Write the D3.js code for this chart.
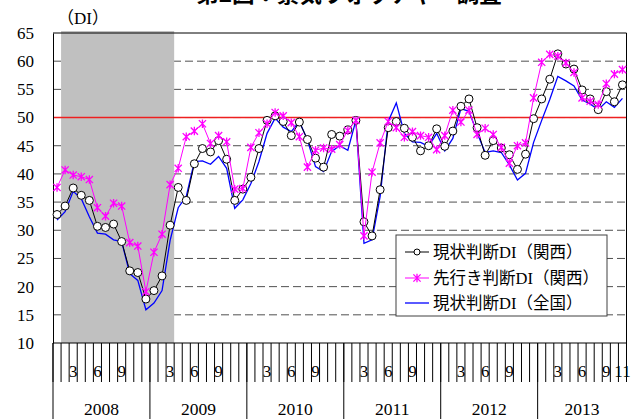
<!DOCTYPE html>
<html>
<head>
<meta charset="utf-8">
<script src="https://cdn.jsdelivr.net/npm/d3@7"></script>
<style>
  body { margin: 0; background: #fff; }
  text { font-family: "Liberation Serif", "Noto Sans CJK JP", serif; fill: #000; }
</style>
</head>
<body>
<div id="chart"></div>
<script>
var svgWidth = 637;
var svgHeight = 419;

var margin = { top: 33, right: 10.5, bottom: 76, left: 53 };
var width = svgWidth - margin.left - margin.right;
var height = svgHeight - margin.top - margin.bottom;

// data
var years = [2008, 2009, 2010, 2011, 2012, 2013];
var lastMonth = 11; // 2013 stops at November
var labelMonths = [3, 6, 9];
var recession = ["2008-02", "2009-03"];
var yTicks = [10, 15, 20, 25, 30, 35, 40, 45, 50, 55, 60, 65];
var seriesNames = ["現状判断DI（関西）", "先行き判断DI（関西）", "現状判断DI（全国）"];

var kansaiCurrent = [
  32.8, 34.3, 37.5, 36.2, 35.3, 30.7, 30.5, 31.1, 28.0, 22.8, 22.5, 17.8,
  19.3, 21.9, 30.9, 37.6, 35.3, 41.8, 44.5, 43.9, 45.9, 42.6, 35.3, 37.3,
  39.4, 44.5, 49.5, 50.3, 49.3, 46.8, 49.2, 46.1, 42.8, 41.2, 47.0, 46.7,
  47.8, 49.5, 31.5, 29.0, 37.2, 48.2, 49.3, 48.1, 46.5, 44.1, 45.0, 48.0,
  44.9, 47.6, 52.0, 53.3, 48.2, 43.3, 45.9, 44.6, 43.4, 40.8, 43.5, 49.8,
  53.3, 56.8, 61.3, 59.5, 58.6, 54.9, 53.3, 51.4, 54.6, 52.8, 55.8
];
var kansaiFuture = [
  37.6, 40.7, 39.8, 39.5, 39.0, 34.0, 32.5, 34.8, 34.3, 27.8, 27.2, 19.1,
  26.1, 29.3, 38.1, 41.0, 46.6, 47.6, 48.9, 45.4, 46.8, 45.7, 37.3, 37.4,
  44.7, 47.3, 48.9, 50.9, 50.3, 49.1, 46.6, 41.2, 44.2, 44.6, 44.4, 45.2,
  47.7, 49.5, 29.0, 40.3, 45.5, 49.3, 48.2, 46.5, 47.5, 46.8, 46.5, 44.3,
  46.8, 51.3, 49.2, 51.3, 47.0, 48.1, 47.0, 44.7, 41.9, 45.0, 45.5, 53.5,
  59.8, 61.2, 60.9, 59.7, 58.0, 53.5, 52.9, 52.3, 56.0, 57.7, 58.5
];
var nationalCurrent = [
  31.8, 33.3, 36.9, 35.6, 32.4, 29.5, 29.3, 28.3, 28.0, 22.3, 21.1, 15.9,
  17.1, 19.3, 28.2, 34.0, 36.0, 42.2, 42.3, 41.7, 43.1, 41.0, 33.9, 35.4,
  38.3, 42.2, 47.2, 49.9, 48.3, 47.5, 49.3, 46.0, 41.3, 40.4, 44.0, 45.0,
  44.2, 49.5, 27.7, 28.3, 36.0, 49.3, 52.6, 47.2, 45.7, 45.6, 44.9, 47.2,
  44.1, 46.3, 51.6, 51.1, 47.3, 43.8, 44.1, 43.8, 41.6, 38.9, 40.1, 45.6,
  49.5, 53.2, 57.3, 56.5, 55.6, 53.1, 52.4, 51.4, 52.8, 51.8, 53.4
];

// month categories "YYYY-MM"
var categories = [];
years.forEach(function(yr, k) {
  var n = (k === years.length - 1) ? lastMonth : 12;
  for (var m = 1; m <= n; m++) {
    categories.push(yr + "-" + (m < 10 ? "0" + m : m));
  }
});
function monthOf(c) { return +c.slice(5); }

var svg = d3.select("#chart")
  .append("svg")
  .attr("width", svgWidth)
  .attr("height", svgHeight);

var chartGroup = svg.append("g")
  .attr("transform", `translate(${margin.left}, ${margin.top})`);

var x = d3.scaleBand().domain(categories).range([0, width]).padding(0);
var bw = x.bandwidth();
var y = d3.scaleLinear().domain([10, 65]).range([height, 0]);
function cx(i) { return x(categories[i]) + bw / 2; }

// dashed gridlines
chartGroup.selectAll(".grid")
  .data(yTicks.filter(v => v > 10 && v < 65))
  .enter().append("line")
  .attr("x1", 0).attr("x2", width)
  .attr("y1", d => y(d)).attr("y2", d => y(d))
  .attr("stroke", "#505050")
  .attr("stroke-width", 1)
  .attr("stroke-dasharray", "8,4");

// recession shading
chartGroup.append("rect")
  .attr("x", x(recession[0]))
  .attr("width", x(recession[1]) + bw - x(recession[0]))
  .attr("y", -2)
  .attr("height", height + 2)
  .attr("fill", "#c0c0c0");

// 50 line
chartGroup.append("line")
  .attr("x1", 0).attr("x2", width)
  .attr("y1", y(50)).attr("y2", y(50))
  .attr("stroke", "#ee2020")
  .attr("stroke-width", 1.6);

// frame
chartGroup.append("line").attr("x1", 0).attr("x2", width).attr("y1", 0).attr("y2", 0)
  .attr("stroke", "#000");
chartGroup.append("line").attr("x1", width).attr("x2", width).attr("y1", 0).attr("y2", height)
  .attr("stroke", "#000");

// y axis
var leftAxis = d3.axisLeft(y).tickValues(yTicks).tickSize(0).tickPadding(19);
var yAxis = chartGroup.append("g").call(leftAxis);
yAxis.select(".domain").attr("stroke", "#000");
yAxis.selectAll("text")
  .style("font-family", "Liberation Serif")
  .style("font-size", "17px")
  .attr("fill", "#000");

// x axis line
chartGroup.append("line")
  .attr("x1", 0).attr("x2", width)
  .attr("y1", height).attr("y2", height)
  .attr("stroke", "#000");

// month ticks at every boundary
var bounds = d3.range(categories.length + 1);
chartGroup.selectAll(".mtick")
  .data(bounds)
  .enter().append("line")
  .attr("x1", d => d * bw).attr("x2", d => d * bw)
  .attr("y1", height).attr("y2", height + 39)
  .attr("stroke", "#000");

// year separators
chartGroup.selectAll(".ytick")
  .data(years)
  .enter().append("line")
  .attr("x1", d => x(d + "-01")).attr("x2", d => x(d + "-01"))
  .attr("y1", height).attr("y2", height + 76)
  .attr("stroke", "#000");

// month labels
chartGroup.selectAll(".mlabel")
  .data(categories.filter((c, i) => labelMonths.indexOf(monthOf(c)) >= 0 || i === categories.length - 1))
  .enter().append("text")
  .attr("x", d => x(d) + bw / 2)
  .attr("y", height + 33.5)
  .attr("text-anchor", "middle")
  .style("font-size", "17px")
  .text(d => monthOf(d));

// year labels
chartGroup.selectAll(".ylabel")
  .data(years)
  .enter().append("text")
  .attr("x", function(d) {
    var own = categories.filter(c => c.slice(0, 4) === String(d));
    return (x(own[0]) + x(own[own.length - 1]) + bw) / 2;
  })
  .attr("y", height + 72)
  .attr("text-anchor", "middle")
  .style("font-size", "17.5px")
  .text(d => d);

// series
var line = d3.line().x((d, i) => cx(i)).y(d => y(d));
var starPath = "M-3.6,-3.6L3.6,3.6M-3.6,3.6L3.6,-3.6M0,-4.2L0,4.2";

chartGroup.append("path")
  .datum(nationalCurrent)
  .attr("d", line)
  .attr("fill", "none")
  .attr("stroke", "#0000ff")
  .attr("stroke-width", 1.3);

chartGroup.append("path")
  .datum(kansaiCurrent)
  .attr("d", line)
  .attr("fill", "none")
  .attr("stroke", "#000")
  .attr("stroke-width", 1);

chartGroup.selectAll(".dot")
  .data(kansaiCurrent)
  .enter().append("circle")
  .attr("cx", (d, i) => cx(i))
  .attr("cy", d => y(d))
  .attr("r", 4)
  .attr("fill", "#fff")
  .attr("stroke", "#000")
  .attr("stroke-width", 1);

chartGroup.append("path")
  .datum(kansaiFuture)
  .attr("d", line)
  .attr("fill", "none")
  .attr("stroke", "#ff00ff")
  .attr("stroke-width", 1);

chartGroup.selectAll(".star")
  .data(kansaiFuture)
  .enter().append("path")
  .attr("transform", (d, i) => `translate(${cx(i)},${y(d)})`)
  .attr("d", starPath)
  .attr("fill", "none")
  .attr("stroke", "#ff00ff")
  .attr("stroke-width", 1.3);

// legend
var legend = svg.append("g").attr("transform", "translate(396, 235)");
legend.append("rect")
  .attr("width", 211).attr("height", 81)
  .attr("fill", "#fff")
  .attr("stroke", "#404040");

var legendRows = [17, 43, 68];
var legendColors = ["#000", "#ff00ff", "#0000ff"];
legendRows.forEach(function(ly, k) {
  legend.append("line")
    .attr("x1", 9).attr("x2", 33)
    .attr("y1", ly).attr("y2", ly)
    .attr("stroke", legendColors[k])
    .attr("stroke-width", k === 2 ? 1.3 : 1);
  if (k === 0) {
    legend.append("circle").attr("cx", 21).attr("cy", ly).attr("r", 3)
      .attr("fill", "#fff").attr("stroke", "#000");
  }
  if (k === 1) {
    legend.append("path").attr("transform", `translate(21,${ly})`)
      .attr("d", starPath).attr("fill", "none")
      .attr("stroke", "#ff00ff").attr("stroke-width", 1.3);
  }
  legend.append("text")
    .attr("x", 37).attr("y", ly + 6)
    .style("font-size", "16.5px")
    .text(seriesNames[k]);
});

// title (cut off at the top) and unit
svg.append("text")
  .attr("x", 349).attr("y", 2)
  .attr("text-anchor", "middle")
  .style("font-family", "Noto Sans CJK JP")
  .style("font-weight", "bold")
  .style("font-size", "22.5px")
  .text("第2図：景気ウォッチャー調査");

svg.append("text")
  .attr("x", 57).attr("y", 24)
  .style("font-size", "17px")
  .text("（DI）");
</script>
</body>
</html>
